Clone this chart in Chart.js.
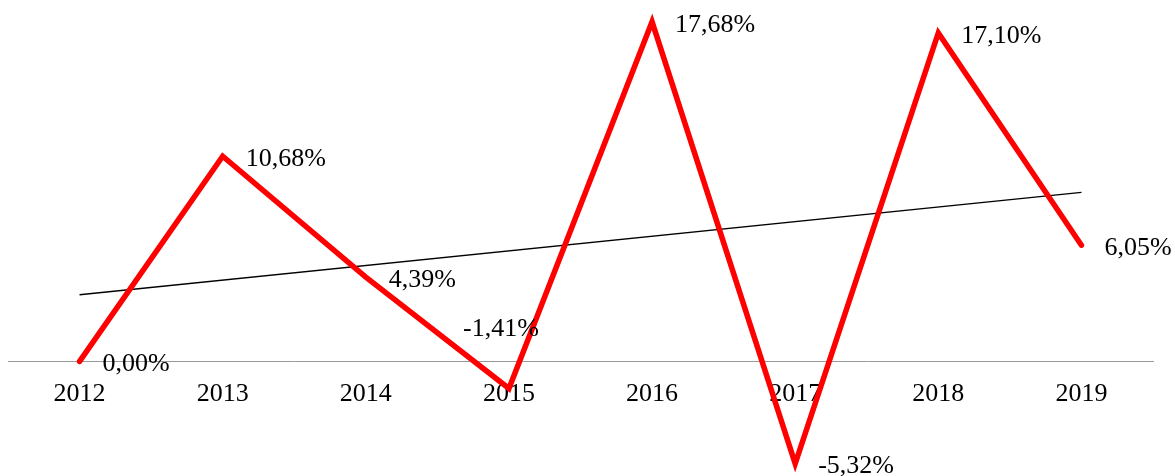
<!DOCTYPE html>
<html lang="en">
<head>
    <meta charset="UTF-8">
    <title>Growth 2012-2019</title>
    <script src="https://cdn.jsdelivr.net/npm/chart.js"></script>
    <style>
        body {
            margin: 0;
            padding: 0;
            background-color: #ffffff;
        }

        .wrap {
            width: 1175px;
            height: 476px;
        }
    </style>
</head>
<body>
    <div class="wrap">
        <canvas id="growthChart" width="1175" height="476"></canvas>
    </div>

    <script>
        // Data
        const years = ['2012', '2013', '2014', '2015', '2016', '2017', '2018', '2019'];
        const growth = [0.00, 10.68, 4.39, -1.41, 17.68, -5.32, 17.10, 6.05];
        // linear trend, only its two ends are known
        const trend = [3.47, null, null, null, null, null, null, 8.8];

        const fmt = v => v.toFixed(2).replace('.', ',') + '%';

        // Value labels next to each point
        const valueLabels = {
            id: 'valueLabels',
            afterDatasetsDraw(chart) {
                const ctx = chart.ctx;
                const meta = chart.getDatasetMeta(0);
                ctx.save();
                ctx.font = '26px "Liberation Serif", "Times New Roman", serif';
                ctx.fillStyle = '#000';
                ctx.textBaseline = 'middle';
                meta.data.forEach((pt, i) => {
                    const v = growth[i];
                    if (i === 3) {
                        // this one sits above the dip
                        ctx.textAlign = 'center';
                        ctx.fillText(fmt(v), pt.x - 8, pt.y - 59);
                    } else {
                        ctx.textAlign = 'left';
                        ctx.fillText(fmt(v), pt.x + 23, pt.y + 3);
                    }
                });
                ctx.restore();
            }
        };

        const ctx = document.getElementById('growthChart').getContext('2d');
        const growthChart = new Chart(ctx, {
            type: 'line',
            data: {
                labels: years,
                datasets: [{
                    data: growth,
                    borderColor: '#ff0000',
                    borderWidth: 5.5,
                    borderCapStyle: 'round',
                    borderJoinStyle: 'miter',
                    pointRadius: 0,
                    tension: 0,
                    clip: false
                }, {
                    data: trend,
                    borderColor: '#000000',
                    borderWidth: 1.3,
                    pointRadius: 0,
                    spanGaps: true,
                    tension: 0
                }]
            },
            options: {
                responsive: false,
                animation: false,
                layout: {
                    padding: { left: 8, right: 22, top: 7, bottom: 7 }
                },
                plugins: {
                    legend: { display: false },
                    tooltip: { enabled: false }
                },
                scales: {
                    x: {
                        position: { y: 0 },
                        offset: true,
                        grid: { display: false, drawTicks: false },
                        border: { display: true, color: '#999999', width: 1 },
                        ticks: {
                            color: '#000',
                            padding: 17,
                            maxRotation: 0,
                            font: { family: '"Liberation Serif", "Times New Roman", serif', size: 26 }
                        },
                        afterFit(scale) {
                            scale.height = 0;
                        }
                    },
                    y: {
                        display: false,
                        min: -5.6,
                        max: 18.45
                    }
                }
            },
            plugins: [valueLabels]
        });
    </script>
</body>
</html>
